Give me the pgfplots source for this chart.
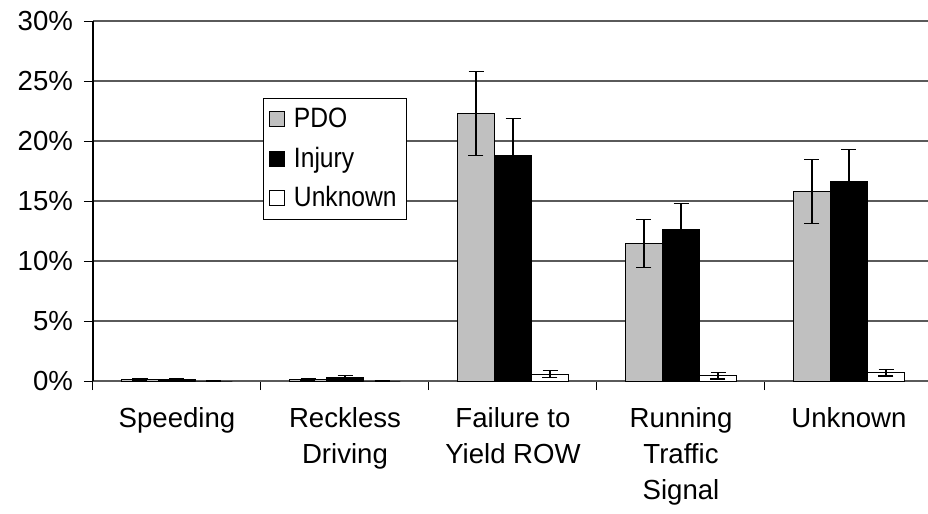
\documentclass[border=0pt]{standalone}
\usepackage{pgfplots}
\pgfplotsset{compat=1.18}
\usepackage{pgfplotstable}
\usepackage{fontspec}
\setmainfont{Liberation Sans}
\newfontfamily\legfont[FakeStretch=0.88]{Liberation Sans}
\usetikzlibrary{calc}
\definecolor{pdo}{RGB}{192,192,192}
\definecolor{gridgray}{RGB}{90,90,90}

% x = category, y = share in %, e = half width of the error bar
\pgfplotstableread{
x y e
0 0.15 0.08
1 0.12 0.04
2 22.3 3.5
3 11.45 2.0
4 15.8 2.65
}\pdo
\pgfplotstableread{
x y e
0 0.15 0.08
1 0.3 0.15
2 18.8 3.1
3 12.6 2.2
4 16.6 2.7
}\injury
\pgfplotstableread{
x y e
0 0 0
1 0 0
2 0.57 0.29
3 0.43 0.26
4 0.68 0.26
}\unknown

\begin{document}
\begin{tikzpicture}
\begin{axis}[
  scale only axis, width=420pt, height=180pt,
  xmin=-0.5, xmax=4.5, ymin=0, ymax=30,
  ybar=0pt, bar width=18.5pt,
  axis x line*=bottom, axis y line*=left,
  x axis line style={gridgray, line width=0.8pt},
  y axis line style={black, line width=0.6pt},
  tick align=outside,
  major tick length=4.5pt, minor tick length=4.5pt,
  tick style={black, line width=0.5pt},
  xtick={0,1,2,3,4},
  xticklabels={Speeding, Reckless\\Driving, Failure to\\Yield ROW, Running\\Traffic\\Signal, Unknown},
  major x tick style={draw=none},
  minor xtick={-0.5,0.5,1.5,2.5,3.5,4.5},
  xticklabel style={align=center, font=\fontsize{13.8}{18}\selectfont, yshift=-5pt},
  ytick={0,5,...,30},
  yticklabel={\pgfmathprintnumber{\tick}\%},
  yticklabel style={font=\fontsize{13.8}{16}\selectfont, xshift=-2pt},
  /pgf/number format/assume math mode=true,
  ymajorgrids, major grid style={gridgray, line width=0.6pt},
  every axis plot/.append style={draw=black, line width=0.5pt},
  error bars/error bar style={black, line width=0.6pt},
  error bars/error mark options={rotate=90, mark size=3.75pt, black, line width=0.6pt},
  legend image code/.code={\draw[#1, draw=black, line width=0.4pt] (1.5pt,-3.75pt) rectangle (9pt,3.75pt);},
  legend style={at={(axis cs:0.51,23.6)}, anchor=north west, draw=black,
    line width=0.5pt, font=\legfont\fontsize{14}{16}\selectfont,
    row sep=4.2pt, inner xsep=3pt, inner ysep=2.8pt, /tikz/column sep=2.5pt},
  legend cell align=left,
]
\addplot[fill=pdo, error bars/.cd, y dir=both, y explicit]
  table[x=x, y=y, y error=e]{\pdo};
\addplot[fill=black, error bars/.cd, y dir=both, y explicit]
  table[x=x, y=y, y error=e]{\injury};
\addplot[fill=white, error bars/.cd, y dir=both, y explicit]
  table[x=x, y=y, y error=e]{\unknown};
\legend{PDO, Injury, Unknown}
\end{axis}
\pgfresetboundingbox
\path[use as bounding box] ($(current axis.south west)+(-46.5pt,-66.5pt)$)
  rectangle ($(current axis.north west)+(417.5pt,10.5pt)$);
\end{tikzpicture}
\end{document}
